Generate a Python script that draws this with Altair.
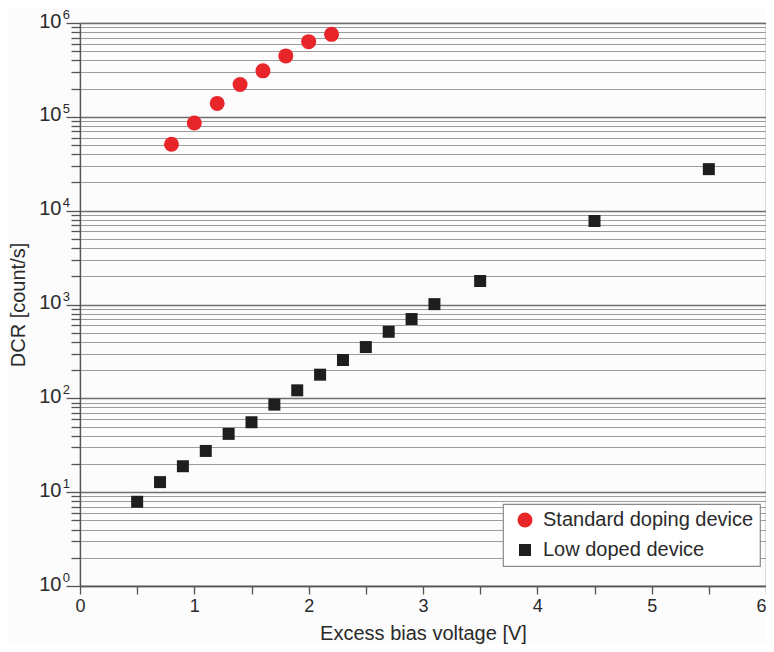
import altair as alt
import pandas as pd

# Standard doping device (red circles)
std_x = [0.8, 1.0, 1.2, 1.4, 1.6, 1.8, 2.0, 2.2]
std_y = [51000, 86000, 139000, 221000, 309000, 446000, 633000, 757000]

# Low doped device (black squares)
low_x = [0.5, 0.7, 0.9, 1.1, 1.3, 1.5, 1.7, 1.9, 2.1, 2.3, 2.5, 2.7, 2.9, 3.1, 3.5, 4.5, 5.5]
low_y = [7.9, 12.8, 18.9, 27.5, 41.8, 55.6, 85.7, 121.7, 178.7, 256, 352, 512, 700, 1009, 1780, 7760, 27700]

series_names = ["Standard doping device", "Low doped device"]
series_colors = ["#e8262a", "#1e1e1e"]
series_shapes = ["circle", "square"]
series_sizes = [225, 144]

x_ticks = [0, 0.5, 1, 1.5, 2, 2.5, 3, 3.5, 4, 4.5, 5, 5.5, 6]
y_ticks = [m * 10 ** k for k in range(0, 6) for m in range(1, 10)] + [10 ** 6]
exponents = [0, 1, 2, 3, 4, 5, 6]

df = pd.concat([
    pd.DataFrame({"x": std_x, "y": std_y, "series": series_names[0]}),
    pd.DataFrame({"x": low_x, "y": low_y, "series": series_names[1]}),
])
exp_df = pd.DataFrame({"y": [10.0 ** e for e in exponents], "e": [str(e) for e in exponents]})

major = "abs(log(datum.value)/LN10 - round(log(datum.value)/LN10)) < 0.001"

font = "Liberation Sans"
txt = "#2a2a2a"

xscale = alt.Scale(domain=[0, 6], nice=False, zero=False)
yscale = alt.Scale(type="log", domain=[1, 1e6], nice=False)

points = alt.Chart(df).mark_point(filled=True, opacity=1).encode(
    x=alt.X("x:Q", scale=xscale,
            axis=alt.Axis(title="Excess bias voltage [V]", values=x_ticks,
                          labelExpr="datum.value % 1 === 0 ? format(datum.value, 'd') : ''",
                          labelAlign={"condition": {"test": "datum.value >= 6", "value": "right"}, "value": "center"},
                          grid=False, tickSize=8, labelPadding=3, labelFlush=False,
                          labelOverlap=False, titlePadding=8)),
    y=alt.Y("y:Q", scale=yscale,
            axis=alt.Axis(title="DCR [count/s]", values=y_ticks,
                          labelExpr=f"{major} ? '10' : ''",
                          grid=True,
                          gridColor={"condition": {"test": major, "value": "#6e6e6e"}, "value": "#9c9c9c"},
                          gridWidth={"condition": {"test": major, "value": 1.6}, "value": 1.2},
                          tickSize={"condition": {"test": major, "value": 14}, "value": 9},
                          labelPadding=5, labelOffset=-2, labelOverlap=False, titlePadding=10)),
    color=alt.Color("series:N", scale=alt.Scale(domain=series_names, range=series_colors),
                    legend=alt.Legend(title=None, orient="none", legendX=423, legendY=481)),
    shape=alt.Shape("series:N", scale=alt.Scale(domain=series_names, range=series_shapes)),
    size=alt.Size("series:N", scale=alt.Scale(domain=series_names, range=series_sizes)),
)

exps = alt.Chart(exp_df).mark_text(
    align="right", baseline="middle", dx=-10, dy=-8, fontSize=13, font=font, color=txt,
).encode(
    x=alt.X(datum=0, scale=xscale),
    y=alt.Y("y:Q", scale=yscale),
    text="e:N",
)

chart = alt.layer(points, exps).properties(
    width=686, height=563,
    autosize=alt.AutoSizeParams(type="none"),
    padding={"left": 72, "top": 15, "right": 0, "bottom": 58},
    background="#fcfcfc",
).configure_view(
    stroke="#888888", strokeWidth=1.2,
).configure_axis(
    labelFont=font, titleFont=font, labelColor=txt, titleColor=txt,
    labelFontSize=18, titleFontSize=20, titleFontWeight="normal",
    domainColor="#555555", domainWidth=1.3, tickColor="#555555", tickWidth=1.3,
).configure_axisY(
    labelFontSize=20,
).configure_legend(
    labelFont=font, labelFontSize=20, labelColor=txt, labelLimit=0,
    fillColor="white", strokeColor="#8a8a8a", strokeWidth=1.2,
    padding=6, symbolOffset=6, labelOffset=8, rowPadding=10,
    symbolStrokeWidth=0,
)

chart.save("out.html", embed_options={"renderer": "svg", "actions": False})
